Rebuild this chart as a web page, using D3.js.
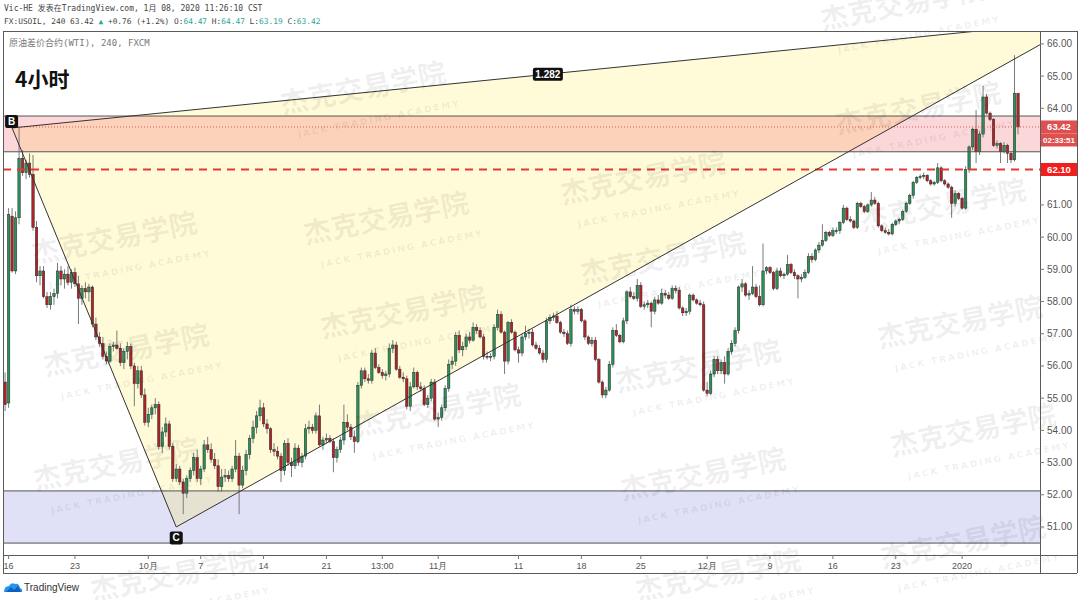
<!DOCTYPE html>
<html><head><meta charset="utf-8">
<script src="https://cdn.jsdelivr.net/npm/d3@7"></script>
<style>html,body{margin:0;padding:0;background:#fff;}svg{display:block;}</style>
</head><body>
<svg id="c" width="1080" height="600"></svg>
<script>
// ---------------- DATA ----------------
const opens = [
55.50,54.85,60.65,58.95,60.60,62.45,62.00,62.30,61.95,60.30,
58.80,58.95,58.15,57.90,58.15,58.25,58.95,58.70,58.85,58.60,
58.90,58.55,58.10,58.40,58.30,58.45,57.30,56.90,56.70,56.30,
56.15,56.60,56.65,56.55,56.10,56.45,56.60,56.00,55.45,55.85,
55.10,54.25,54.50,54.70,54.80,53.50,53.95,54.20,53.50,52.50,
52.80,52.40,52.05,52.50,52.75,53.15,52.50,52.80,53.55,53.40,
53.10,52.90,52.25,52.55,52.60,52.50,52.80,53.20,52.30,52.75,
53.25,53.75,54.10,54.45,54.70,54.20,54.05,53.40,53.35,53.20,
52.75,53.60,53.00,52.90,53.45,53.00,53.20,54.05,54.10,54.00,
54.45,53.55,53.70,53.75,53.65,53.15,53.40,53.70,54.25,54.10,
53.80,53.65,55.40,55.85,55.60,55.55,56.40,55.95,55.80,55.70,
55.75,56.55,56.65,55.90,55.65,55.60,54.75,55.35,55.80,55.35,
55.30,54.80,55.00,55.50,54.35,54.40,54.70,55.30,56.05,56.15,
56.95,56.50,56.60,56.90,56.80,57.20,57.10,56.90,56.30,56.28,
56.30,57.20,57.60,57.05,56.15,57.35,57.05,56.50,56.40,56.90,
57.00,57.05,56.65,56.55,56.40,56.20,57.40,57.50,57.55,57.35,
57.05,57.00,56.70,57.75,57.70,57.75,57.40,56.90,56.70,56.80,
56.20,55.50,55.10,55.25,56.05,57.10,56.95,56.75,57.40,58.30,
58.15,58.10,58.50,57.85,57.90,57.95,57.70,58.05,57.95,58.25,
58.20,58.10,58.40,58.35,57.80,57.65,57.70,58.20,58.05,57.95,
57.90,55.25,55.15,55.75,56.20,55.85,56.10,55.75,56.45,56.70,
57.10,58.45,58.55,58.20,58.25,58.45,58.15,57.90,58.95,59.05,
58.90,58.40,58.95,58.80,58.85,59.15,58.90,58.80,58.70,58.75,
58.90,59.40,59.30,59.60,59.75,59.90,60.15,60.05,60.20,60.20,
60.45,60.90,60.55,60.50,60.30,61.05,60.95,60.80,61.00,61.15,
61.05,60.35,60.20,60.15,60.10,60.40,60.50,60.55,60.80,61.05,
61.30,61.70,61.85,61.88,61.92,61.75,61.65,61.70,62.15,61.75,
61.65,61.55,61.05,61.35,61.20,60.90,62.10,62.80,63.35,62.65,
63.20,64.35,63.85,63.65,62.85,62.90,62.65,62.85,62.60,62.40,64.47];
const highs = [
55.80,60.90,60.90,60.80,63.40,62.70,62.40,62.60,62.55,60.50,
59.10,59.10,58.30,58.30,58.40,59.20,59.10,59.00,59.10,59.00,
59.05,58.80,58.50,58.60,58.55,58.50,57.50,57.05,56.90,56.45,
56.70,56.75,57.10,56.70,56.55,56.75,56.70,56.10,56.00,56.00,
55.30,54.70,54.80,55.00,54.90,54.10,54.40,54.30,53.60,52.95,
52.90,52.50,52.60,52.85,53.30,53.40,52.90,53.70,53.80,53.60,
53.30,53.10,52.80,52.80,52.75,52.90,53.70,53.30,52.90,53.40,
53.85,54.30,54.60,54.95,54.85,54.35,54.10,53.60,53.50,53.30,
53.70,53.75,53.15,53.60,53.55,53.30,54.20,54.30,54.20,54.55,
54.80,53.80,53.90,53.85,53.75,53.50,53.80,54.80,54.50,54.20,
54.00,55.50,55.95,55.95,55.75,56.50,56.55,56.05,55.90,55.85,
56.70,56.80,56.75,56.00,55.80,55.70,55.50,55.95,55.85,55.50,
55.40,55.10,55.60,55.60,54.55,54.80,55.40,56.20,56.30,57.05,
57.10,56.75,57.00,57.05,57.35,57.30,57.20,57.00,56.45,56.40,
57.30,57.75,57.70,57.10,57.40,57.45,57.10,56.60,57.00,57.25,
57.15,57.15,56.75,56.65,56.50,57.50,57.60,57.65,57.70,57.40,
57.15,57.10,57.90,57.85,57.85,57.80,57.45,56.95,56.90,56.90,
56.25,55.55,55.35,56.15,57.20,57.30,57.00,57.50,58.35,58.45,
58.30,58.70,58.60,58.00,58.05,58.00,58.15,58.20,58.40,58.35,
58.30,58.50,58.50,58.45,57.85,57.80,58.25,58.25,58.10,58.05,
58.00,55.50,55.85,56.30,56.30,56.20,56.30,56.55,56.80,57.20,
58.50,58.70,58.60,58.35,59.10,58.55,58.50,59.80,59.10,59.10,
58.95,59.05,59.05,58.90,59.45,59.20,59.00,58.85,58.85,59.00,
59.50,59.50,59.65,59.85,60.40,60.20,60.20,60.30,60.30,60.50,
61.00,60.95,60.65,60.55,61.10,61.10,61.00,61.05,61.40,61.25,
61.10,60.40,60.30,60.25,60.45,60.55,60.60,60.85,61.10,61.35,
61.75,61.90,61.95,62.00,61.95,61.80,61.75,62.30,62.20,61.80,
61.70,61.60,61.45,61.40,61.25,62.20,62.85,63.40,63.95,63.30,
64.70,64.45,63.90,63.70,63.00,62.95,62.95,62.90,62.65,65.65,64.47];
const lows = [
54.60,54.70,58.90,58.85,60.40,61.90,61.80,61.85,60.20,58.60,
58.50,58.10,57.80,57.75,57.90,58.10,58.50,58.40,58.50,58.40,
58.45,57.30,57.90,58.10,58.00,57.20,56.80,56.60,56.20,56.05,
56.10,56.45,56.50,56.00,55.90,56.20,55.90,54.75,55.30,55.00,
54.15,54.10,54.35,54.50,53.40,53.30,53.80,53.40,52.40,52.40,
52.30,51.40,51.90,52.40,52.60,52.40,52.30,52.70,53.30,53.00,
52.80,52.10,52.10,52.40,52.40,52.40,52.70,51.40,52.20,52.60,
53.10,53.60,53.90,54.30,54.10,53.90,53.30,53.20,53.10,52.40,
52.60,52.90,52.55,52.80,52.90,52.85,53.10,53.90,53.90,53.90,
53.50,53.40,53.60,53.60,52.70,53.00,53.30,53.55,54.00,53.70,
53.30,53.60,55.30,55.50,55.45,55.45,55.90,55.75,55.60,55.55,
55.65,56.40,55.85,55.60,55.50,54.65,54.60,55.30,55.25,55.20,
54.75,54.70,54.90,54.30,54.10,54.30,54.60,55.20,55.90,56.00,
56.40,56.30,56.50,56.70,56.75,57.00,56.85,56.20,56.20,56.15,
56.20,57.10,57.00,55.75,56.05,57.00,56.45,56.10,56.30,56.80,
56.85,56.60,56.50,56.35,56.10,56.10,57.30,57.40,57.30,57.00,
56.90,56.65,56.60,57.60,57.60,57.35,56.80,56.65,56.60,56.15,
55.45,55.00,55.00,55.20,55.95,56.90,56.70,56.70,57.30,58.10,
58.05,58.00,57.80,57.75,57.80,57.20,57.60,57.90,57.90,58.10,
58.05,58.05,58.25,57.75,57.55,57.55,57.60,58.00,57.90,57.85,
55.20,55.05,55.10,55.65,55.75,55.75,55.45,55.70,56.35,56.60,
57.00,58.30,58.15,58.05,58.20,58.10,57.85,57.85,58.85,58.85,
58.35,58.35,58.75,58.70,58.80,58.85,58.70,58.10,58.60,58.70,
58.85,59.20,59.25,59.50,59.70,59.85,60.00,60.00,60.10,60.10,
60.40,60.50,60.45,60.25,60.25,60.90,60.75,60.75,60.95,61.00,
60.30,60.15,60.10,60.05,60.05,60.35,60.40,60.50,60.75,61.00,
61.20,61.65,61.80,61.80,61.70,61.60,61.60,61.65,61.70,61.60,
61.50,60.60,60.95,61.15,60.85,60.85,62.00,62.70,62.30,62.55,
63.10,63.80,63.60,62.80,62.75,62.30,62.60,62.30,62.30,62.35,63.19];
const closes = [
54.80,60.70,58.95,60.60,62.45,62.00,62.30,61.95,60.30,58.80,
58.95,58.15,57.90,58.15,58.25,58.95,58.70,58.85,58.60,58.90,
58.55,58.10,58.40,58.30,58.45,57.30,56.90,56.70,56.30,56.15,
56.60,56.65,56.55,56.10,56.45,56.60,56.00,55.45,55.85,55.10,
54.25,54.50,54.70,54.80,53.50,53.95,54.20,53.50,52.50,52.80,
52.40,52.05,52.50,52.75,53.15,52.50,52.80,53.55,53.40,53.10,
52.90,52.25,52.55,52.60,52.50,52.80,53.20,52.30,52.75,53.25,
53.75,54.10,54.45,54.70,54.20,54.05,53.40,53.35,53.20,52.75,
53.60,53.00,52.90,53.45,53.00,53.20,54.05,54.10,54.00,54.45,
53.55,53.70,53.75,53.65,53.15,53.40,53.70,54.25,54.10,53.80,
53.65,55.40,55.85,55.60,55.55,56.40,55.95,55.80,55.70,55.75,
56.55,56.65,55.90,55.65,55.60,54.75,55.35,55.80,55.35,55.30,
54.80,55.00,55.50,54.35,54.40,54.70,55.30,56.05,56.15,56.95,
56.50,56.60,56.90,56.80,57.20,57.10,56.90,56.30,56.28,56.30,
57.20,57.60,57.05,56.15,57.35,57.05,56.50,56.40,56.90,57.00,
57.05,56.65,56.55,56.40,56.20,57.40,57.50,57.55,57.35,57.05,
57.00,56.70,57.75,57.70,57.75,57.40,56.90,56.70,56.80,56.20,
55.50,55.10,55.25,56.05,57.10,56.95,56.75,57.40,58.30,58.15,
58.10,58.50,57.85,57.90,57.95,57.70,58.05,57.95,58.25,58.20,
58.10,58.40,58.35,57.80,57.65,57.70,58.20,58.05,57.95,57.90,
55.25,55.15,55.75,56.20,55.85,56.10,55.75,56.45,56.70,57.10,
58.45,58.55,58.20,58.25,58.45,58.15,57.90,58.95,59.05,58.90,
58.40,58.95,58.80,58.85,59.15,58.90,58.80,58.70,58.75,58.90,
59.40,59.30,59.60,59.75,59.90,60.15,60.05,60.20,60.20,60.45,
60.90,60.55,60.50,60.30,61.05,60.95,60.80,61.00,61.15,61.05,
60.35,60.20,60.15,60.10,60.40,60.50,60.55,60.80,61.05,61.30,
61.70,61.85,61.88,61.92,61.75,61.65,61.70,62.15,61.75,61.65,
61.55,61.05,61.35,61.20,60.90,62.10,62.80,63.35,62.65,63.20,
64.35,63.85,63.65,62.85,62.90,62.65,62.85,62.60,62.40,64.47,63.42];

// time axis: bar index where each date label sits, and its text
const tickBars   = [1, 20, 41, 56, 74, 92, 108, 124, 147, 165, 182, 201, 219, 237, 255, 274];
const tickLabels = ["16","23","10月","7","14","21","13:00","11月","11","18","25","12月","9","16","23","2020"];
// price axis
const priceTicks = [51,52,53,54,55,56,57,58,59,60,61,62,63,64,65,66];

const lastPrice = 63.42, lastChange = "+0.76", lastChangePct = "(+1.2%)";
const levelPrice = 62.10;
const countdown = "02:33:51";
// drawn zones [top, bottom]
const upperZone = [63.76, 62.65];
const lowerZone = [52.12, 50.50];
// triangle pattern (bar index, price)
const patternBars   = [2.0, 49.0, 308.8];
const patternPrices = [63.39, 51.00, 66.73];
const patternNames  = ["B", "C"];
const ratioText = "1.282";

// ---------------- LAYOUT ----------------
const pane = {l:3, r:1040, t:31, b:555};
const axisR = 1077, timeB = 573;
const svg = d3.select("#c");
const N = closes.length;
const x = d3.scaleLinear().domain([-0.6, N + 5.3]).range([pane.l, pane.r]);
const y = d3.scaleLinear().domain([50.13, 66.40]).range([pane.b, pane.t]);
const step = x(1) - x(0);

svg.append("rect").attr("width",1080).attr("height",600).attr("fill","#fff");
svg.append("defs").append("clipPath").attr("id","clip").append("rect")
  .attr("x",pane.l).attr("y",pane.t).attr("width",pane.r-pane.l).attr("height",pane.b-pane.t);

const plot = svg.append("g").attr("clip-path","url(#clip)");

function zone(z, fill){
  plot.append("rect").attr("x",pane.l).attr("width",pane.r-pane.l)
    .attr("y",y(z[0])).attr("height",y(z[1])-y(z[0])).attr("fill",fill);
}
zone(lowerZone, "rgba(100,100,215,0.2)");

const P = patternBars.map((b,i)=>[x(b), y(patternPrices[i])]);
plot.append("path").attr("d", d3.line()(P)+"Z").attr("fill","rgba(255,235,59,0.2)");
zone(upperZone, "rgba(242,54,69,0.2)");

// candles
const cg = plot.append("g");
const idx = d3.range(N);
const bw = step*0.7;
cg.selectAll("line.w").data(idx).join("line").attr("class","w")
  .attr("x1",i=>x(i)).attr("x2",i=>x(i)).attr("y1",i=>y(highs[i])).attr("y2",i=>y(lows[i]))
  .attr("stroke","#7a7a7a").attr("stroke-width",1);
cg.selectAll("rect.b").data(idx).join("rect").attr("class","b")
  .attr("x",i=>x(i)-bw/2).attr("width",bw)
  .attr("y",i=>y(Math.max(opens[i],closes[i])))
  .attr("height",i=>Math.max(1,Math.abs(y(opens[i])-y(closes[i]))))
  .attr("fill",i=>closes[i]>=opens[i]?"#2a9158":"#b02428")
  .attr("stroke","#2a2a2a").attr("stroke-width",0.5);

[upperZone, lowerZone].forEach(z=>z.forEach(p=>{
  plot.append("line").attr("x1",pane.l).attr("x2",pane.r).attr("y1",y(p)).attr("y2",y(p))
    .attr("stroke","#555").attr("stroke-width",1);
}));
plot.append("line").attr("x1",pane.l).attr("x2",pane.r).attr("y1",y(lastPrice)).attr("y2",y(lastPrice))
  .attr("stroke","#e05555").attr("stroke-width",1).attr("stroke-dasharray","1,2");
plot.append("line").attr("x1",pane.l).attr("x2",pane.r).attr("y1",y(levelPrice)).attr("y2",y(levelPrice))
  .attr("stroke","#e53935").attr("stroke-width",2).attr("stroke-dasharray","8,6");
[[0,1],[1,2],[0,2]].forEach(([a,b])=>{
  plot.append("line").attr("x1",P[a][0]).attr("y1",P[a][1]).attr("x2",P[b][0]).attr("y2",P[b][1])
    .attr("stroke","#333").attr("stroke-width",1);
});
function tag(cx, cy, txt, w){
  svg.append("rect").attr("x",cx-w/2).attr("y",cy-6.5).attr("width",w).attr("height",13).attr("rx",2).attr("fill","#111");
  svg.append("text").attr("x",cx).attr("y",cy+3.5).attr("text-anchor","middle")
    .attr("font-family","Liberation Sans, Arial").attr("font-size",10).attr("font-weight",700)
    .attr("fill","#fff").text(txt);
}
tag(P[0][0]-0.5, P[0][1]-6.5, patternNames[0], 13);
tag(P[1][0], P[1][1]+11, patternNames[1], 13);
tag((P[0][0]+P[2][0])/2, (P[0][1]+P[2][1])/2, ratioText, 30);

// ---------------- WATERMARKS ----------------
const wm = svg.append("g").attr("pointer-events","none");
const wmPos = [[905,14],[365,98],[920,118],[116,248],[388,228],[645,188],[945,215],
  [128,360],[405,322],[665,268],[962,332],[440,420],[700,376],[975,440],[118,474],
  [705,484],[965,552],[175,585],[720,585]];
wmPos.forEach(([cx,cy])=>{
  const g = wm.append("g").attr("transform",`translate(${cx},${cy}) rotate(-11)`);
  g.append("text").attr("text-anchor","middle").attr("font-family","Noto Sans CJK SC")
    .attr("font-size",28).attr("font-weight",700).attr("fill","#000").attr("fill-opacity",0.07).text("杰克交易学院");
  g.append("text").attr("x",10).attr("y",26).attr("text-anchor","middle").attr("font-family","DejaVu Sans")
    .attr("font-size",9).attr("font-weight",700).attr("letter-spacing",2).attr("fill","#000").attr("fill-opacity",0.07)
    .text("JACK TRADING ACADEMY");
});

// ---------------- AXES / FRAME ----------------
const frame = svg.append("g").attr("stroke","#5a5a5a").attr("stroke-width",1).attr("shape-rendering","crispEdges");
frame.append("line").attr("x1",pane.l).attr("x2",axisR).attr("y1",pane.t).attr("y2",pane.t);
frame.append("line").attr("x1",pane.l).attr("x2",axisR).attr("y1",pane.b).attr("y2",pane.b);
frame.append("line").attr("x1",pane.l).attr("x2",axisR).attr("y1",timeB).attr("y2",timeB);
frame.append("line").attr("x1",pane.l).attr("x2",pane.l).attr("y1",pane.t).attr("y2",timeB);
frame.append("line").attr("x1",pane.r).attr("x2",pane.r).attr("y1",pane.t).attr("y2",timeB);
frame.append("line").attr("x1",axisR).attr("x2",axisR).attr("y1",pane.t).attr("y2",timeB);

const boxes = [
  {cy:y(lastPrice), txt:lastPrice.toFixed(2), fill:"#de5050"},
  {cy:y(lastPrice)+13, txt:countdown, fill:"#de5050"},
  {cy:y(levelPrice), txt:levelPrice.toFixed(2), fill:"#f21e1e"}];

const ya = svg.append("g").attr("font-family","Liberation Sans, Arial").attr("font-size",10).attr("fill","#555");
priceTicks.forEach(p=>{
  ya.append("line").attr("x1",pane.r).attr("x2",pane.r+4).attr("y1",y(p)).attr("y2",y(p)).attr("stroke","#777");
  if (boxes.some(b=>Math.abs(b.cy-y(p))<10)) return;
  ya.append("text").attr("x",pane.r+7).attr("y",y(p)+3.5).text(p.toFixed(2));
});
const xa = svg.append("g").attr("font-family","Liberation Sans, Arial").attr("font-size",9).attr("fill","#555");
tickBars.forEach((b,i)=>{
  xa.append("line").attr("x1",x(b)).attr("x2",x(b)).attr("y1",pane.b).attr("y2",pane.b+4).attr("stroke","#777");
  xa.append("text").attr("x",x(b)).attr("y",pane.b+14).attr("text-anchor","middle").text(tickLabels[i]);
});
boxes.forEach(b=>{
  svg.append("rect").attr("x",pane.r+1).attr("y",b.cy-6.5).attr("width",axisR-pane.r-1).attr("height",13).attr("fill",b.fill);
  svg.append("text").attr("x",(pane.r+axisR)/2+0.5).attr("y",b.cy+3.3).attr("text-anchor","middle")
    .attr("font-family","Liberation Sans, Arial").attr("font-size",b.txt.length>6?8:9.5).attr("font-weight",700)
    .attr("fill","#fff").text(b.txt);
});

// ---------------- HEADER ----------------
const mono = "DejaVu Sans Mono, Noto Sans CJK SC";
svg.append("text").attr("x",4).attr("y",11).attr("font-family",mono).attr("font-size",8)
  .attr("fill","#444").text("Vic-HE 发表在TradingView.com, 1月 08, 2020 11:26:10 CST");
const h2 = svg.append("text").attr("x",4).attr("y",24).attr("font-family",mono).attr("font-size",7.85)
  .attr("fill","#444");
const teal = "#26a69a";
h2.append("tspan").text(`FX:USOIL, 240 ${lastPrice.toFixed(2)} `);
h2.append("tspan").attr("fill",teal).text("▲");
h2.append("tspan").text(` ${lastChange} ${lastChangePct} O:`);
h2.append("tspan").attr("fill",teal).text(opens[N-1].toFixed(2));
h2.append("tspan").text(" H:");
h2.append("tspan").attr("fill",teal).text(highs[N-1].toFixed(2));
h2.append("tspan").text(" L:");
h2.append("tspan").attr("fill",teal).text(lows[N-1].toFixed(2));
h2.append("tspan").text(" C:");
h2.append("tspan").attr("fill",teal).text(closes[N-1].toFixed(2));

svg.append("text").attr("x",9).attr("y",46).attr("font-family",mono).attr("font-size",9)
  .attr("fill","#777").text("原油差价合约(WTI), 240, FXCM");
svg.append("text").attr("x",15).attr("y",87).attr("font-family","Noto Sans CJK SC")
  .attr("font-size",21).attr("font-weight",700).attr("fill","#111").text("4小时");

const logo = svg.append("g").attr("transform","translate(4,582)");
logo.append("path").attr("d","M0,10 Q0,4 5,4 Q7,0 11,2 Q15,1 16,6 Q19,7 18,10 Z").attr("fill","#2196f3");
logo.append("path").attr("d","M2,10 L7,5 L10,8 L14,4 L17,10 Z").attr("fill","#0d47a1").attr("opacity",0.7);
svg.append("text").attr("x",24).attr("y",591).attr("font-family","Liberation Sans, Arial").attr("font-size",10)
  .attr("fill","#333").text("TradingView");
</script>
</body></html>
